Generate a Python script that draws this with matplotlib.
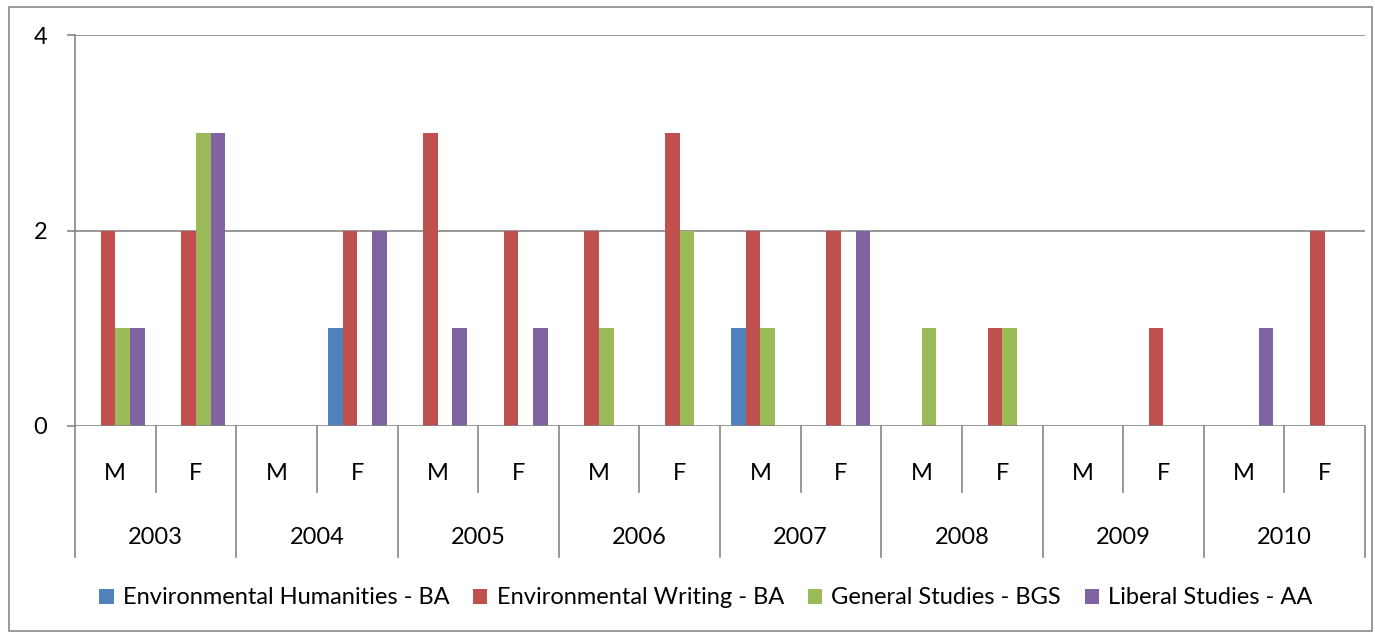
import matplotlib
matplotlib.use("Agg")
import matplotlib.pyplot as plt
import numpy as np
from matplotlib.patches import Rectangle

plt.rcParams['font.family'] = ['Lato', 'DejaVu Sans']

years = ["2003", "2004", "2005", "2006", "2007", "2008", "2009", "2010"]
sexes = ["M", "F"]
series_names = ["Environmental Humanities - BA", "Environmental Writing - BA",
                "General Studies - BGS", "Liberal Studies - AA"]
env_humanities = [0, 0, 0, 1, 0, 0, 0, 0, 1, 0, 0, 0, 0, 0, 0, 0]
env_writing    = [2, 2, 0, 2, 3, 2, 2, 3, 2, 2, 0, 1, 0, 1, 0, 2]
general_studies = [1, 3, 0, 0, 0, 0, 1, 2, 1, 0, 1, 1, 0, 0, 0, 0]
liberal_studies = [1, 3, 0, 2, 1, 1, 0, 0, 0, 2, 0, 0, 0, 0, 1, 0]
colors = ["#4F81BD", "#C0504D", "#9BBB59", "#8064A2"]
yticks = [0, 2, 4]

W, H = 1375, 633
FS = 17
fig = plt.figure(figsize=(W / 100, H / 100), dpi=100)
L, R, T, B = 75, 1365, 35, 426
ax = fig.add_axes([L / W, 1 - B / H, (R - L) / W, (B - T) / H])

# outer chart border
fig.patches.append(Rectangle((9 / W, 1 - 631 / H), (1372 - 9) / W, (631 - 7) / H,
                             transform=fig.transFigure, fill=False,
                             edgecolor="#878787", linewidth=1.2))

series = [env_humanities, env_writing, general_studies, liberal_studies]
n = len(years) * len(sexes)
x = np.arange(n)
bw = 1 / 5.5
handles = []
for i, (vals, c, name) in enumerate(zip(series, colors, series_names)):
    h = ax.bar(x + (i - 1.5) * bw, vals, width=bw, color=c, label=name, zorder=3)
    handles.append(h)

ax.set_xlim(-0.5, n - 0.5)
ax.set_ylim(0, 4)
ax.set_yticks(yticks)
ax.set_yticklabels([str(v) for v in yticks], fontsize=FS)
ax.tick_params(axis='y', length=6, width=1.2, color="#868686", pad=14)
ax.set_xticks([])
for y in yticks[1:]:
    ax.axhline(y, color="#868686", linewidth=1.2, zorder=1)
for s in ["top", "right", "bottom"]:
    ax.spines[s].set_visible(False)
ax.spines["left"].set_color("#868686")
ax.spines["left"].set_linewidth(1.2)
ax.axhline(0, color="#868686", linewidth=1.2, zorder=4)

# multi-level category axis
trans = ax.get_xaxis_transform()
gray = "#868686"
row1 = -(492 - B) / (B - T)
row2 = -(557 - B) / (B - T)
for k in range(n + 1):
    xb = k - 0.5
    bottom = row2 if k % 2 == 0 else row1
    ax.plot([xb, xb], [0, bottom], transform=trans, color=gray, lw=1.2, clip_on=False)
for k in range(n):
    ax.text(k, -(473 - B) / (B - T), sexes[k % 2], transform=trans,
            ha="center", va="center", fontsize=FS)
for j, yr in enumerate(years):
    ax.text(2 * j + 0.5, -(537 - B) / (B - T), yr, transform=trans,
            ha="center", va="center", fontsize=FS)

leg = fig.legend(handles=handles, labels=series_names, loc="center",
                 bbox_to_anchor=(706 / W, 1 - 598 / H), ncol=4, frameon=False,
                 fontsize=FS, handlelength=0.6, handleheight=0.6,
                 handletextpad=0.4, columnspacing=1.0)

fig.savefig("out.png", dpi=100)
